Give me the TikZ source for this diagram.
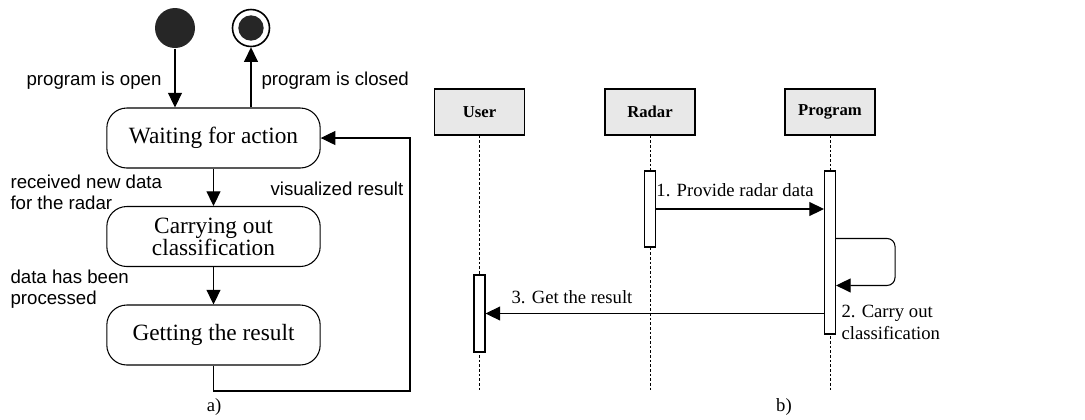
\documentclass[tikz,border=0pt]{standalone}
\usepackage{fontspec}
\setmainfont{Liberation Serif}
\setsansfont{Liberation Sans}
\usetikzlibrary{arrows.meta}

\begin{document}
\begin{tikzpicture}[x=0.75pt,y=0.75pt,yscale=-1,xscale=1,line width=0.8pt,
    state/.style={draw, rounded corners=15pt, minimum width=160pt, minimum height=45pt, align=center, font=\fontsize{17.5}{16.5}\selectfont},
    lbl/.style={font=\sffamily\fontsize{14}{16}\selectfont, align=left, inner sep=0pt},
    msg/.style={font=\fontsize{14}{16.5}\selectfont, align=left, inner sep=0pt},
    head/.style={draw, fill=black!9, minimum width=67.5pt, minimum height=34.5pt, font=\bfseries\fontsize{12.5}{15}\selectfont},
    act/.style={draw, fill=white, minimum width=8.25pt, inner sep=0pt},
    life/.style={dash pattern=on 2pt off 1.5pt, line width=0.6pt},
    arr/.style={-{Triangle[length=11pt,width=10.5pt]}}
  ]
  \useasboundingbox (0,0) rectangle (1085,419);
  % a) state diagram
  \node[circle, fill=black!85, minimum size=30pt, inner sep=0pt] (start) at (175,28) {};
  \node[circle, draw, minimum size=27.75pt, inner sep=0pt, line width=1.2pt] (stop) at (251,28) {};
  \node[circle, fill=black!85, minimum size=19pt, inner sep=0pt] (stopin) at (251,28) {};
  \node[state] (wait) at (213.5,138) {Waiting for action};
  \node[state] (carry) at (213.5,236.5) {Carrying out\\classification};
  \node[state] (get) at (213.5,335) {Getting the result};
  \coordinate (back) at (410,391);
  \draw[arr] (start) -- (start |- wait.north);
  \draw[arr] (stop |- wait.north) -- (stop);
  \draw[arr] (wait) -- (carry);
  \draw[arr] (carry) -- (get);
  \draw[arr] (get.south) |- (back) |- (wait.east);
  \node[lbl, anchor=east] (open) at (162,81) {program is open};
  \node[lbl, anchor=west] (closed) at (261,81) {program is closed};
  \node[lbl, anchor=west] (recv) at (10,192) {received new data\\for the radar};
  \node[lbl, anchor=west] (vis) at (270,189) {visualized result};
  \node[lbl, anchor=west] (done) at (10,289) {data has been\\processed};
  \node[msg] (capa) at (214,407) {a)};
  % b) sequence diagram
  \node[head] (user) at (479.5,112) {User};
  \node[head] (radar) at (650,112) {Radar};
  \node[head] (prog) at (830,112) {Program};
  \coordinate (bottom) at (0,392);
  \draw[life] (user) -- (user |- bottom);
  \draw[life] (radar) -- (radar |- bottom);
  \draw[life] (prog) -- (prog |- bottom);
  \node[act, minimum height=57.75pt] (uact) at (479.5,313.5) {};
  \node[act, minimum height=57pt] (ract) at (650,209) {};
  \node[act, minimum height=122.25pt] (pact) at (830,252.5) {};
  \draw[arr] (ract.east) -- (ract.east -| pact.west);
  \draw[arr, rounded corners=6pt] (pact.north east) ++(0,68) -- ++(59,0) -- ++(0,47) -- ++(-59,0);
  \draw[arr] (uact.east -| pact.west) -- (uact.east);
  \node[msg] (m1) at (735,190) {1. Provide radar data};
  \node[msg, anchor=west] (m2) at (841,322) {2. Carry out\\classification};
  \node[msg] (m3) at (572,297) {3. Get the result};
  \node[msg] (capb) at (784,407) {b)};
\end{tikzpicture}
\end{document}
